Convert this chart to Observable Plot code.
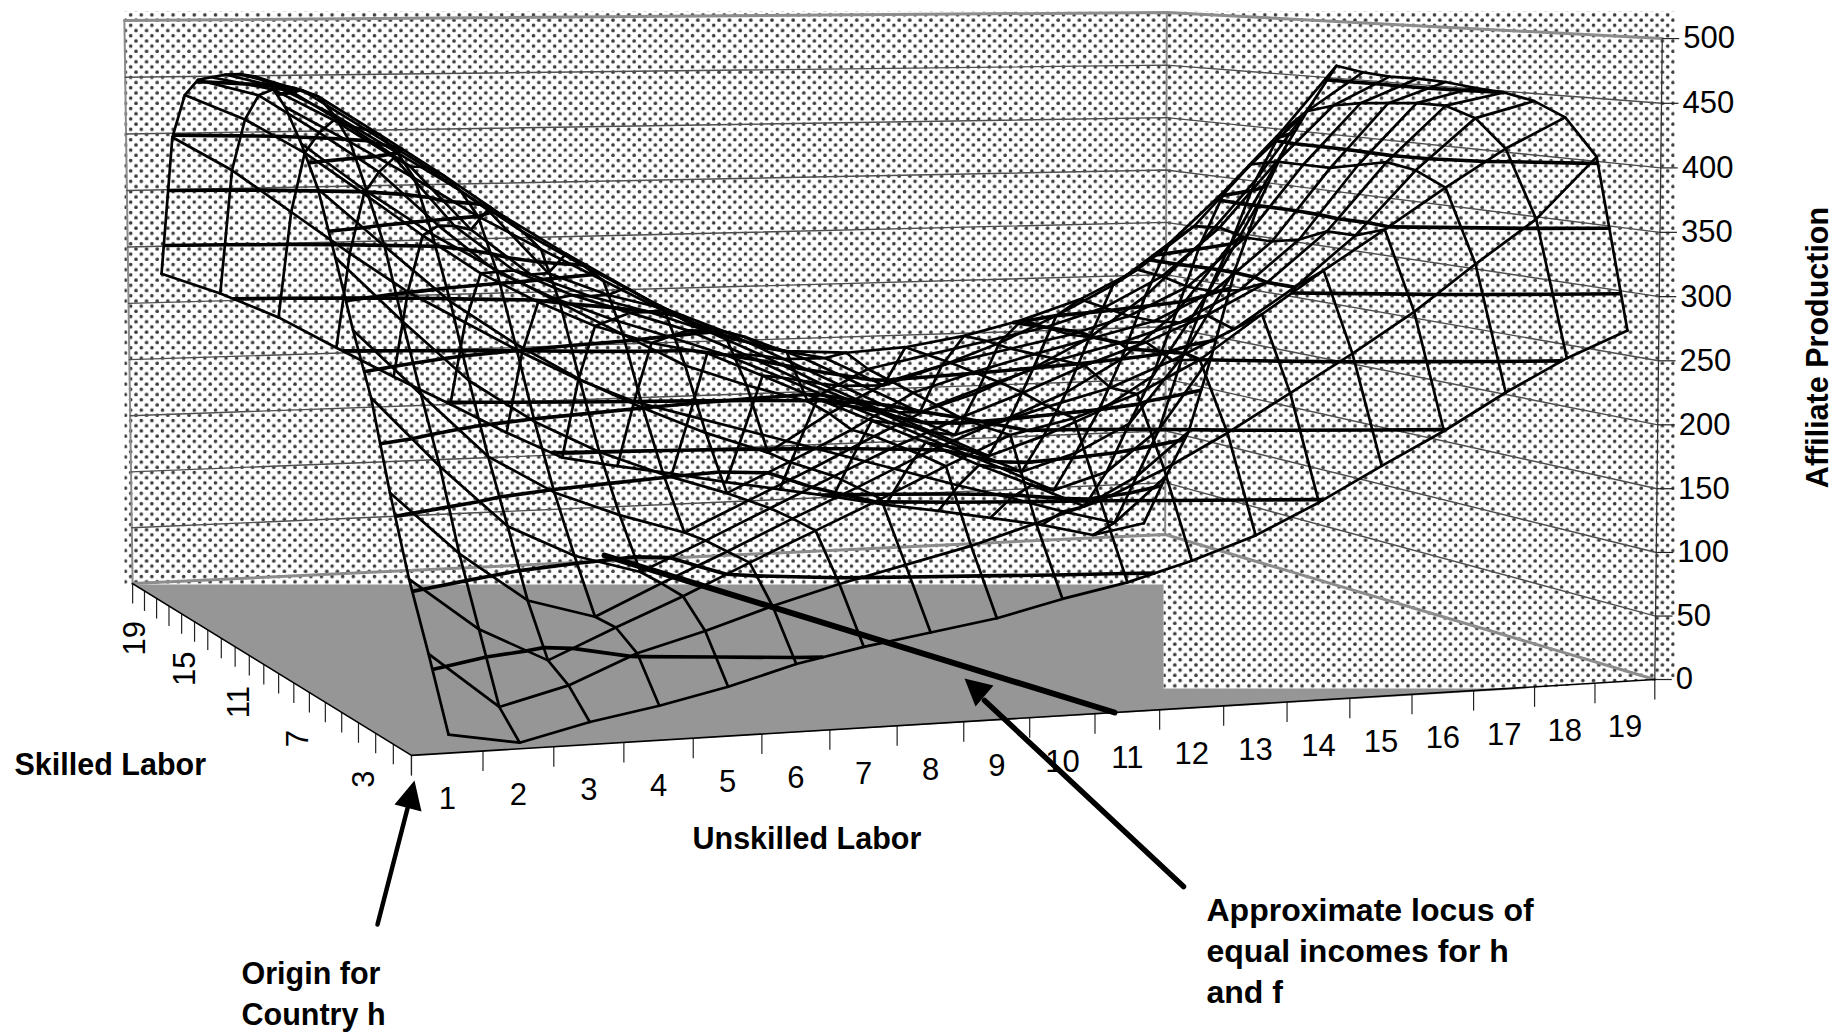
<!DOCTYPE html>
<html><head><meta charset="utf-8">
<script src="https://cdn.jsdelivr.net/npm/d3@7"></script>
<script src="https://cdn.jsdelivr.net/npm/@observablehq/plot@0.6"></script>
<style>html,body{margin:0;padding:0;background:#fff}svg{display:block}</style>
</head><body><div id="chart"></div>
<script>
// category labels
const unskilled = d3.range(1, 20);
const skilled = d3.range(1, 20);
const skilledLabels = [3, 7, 11, 15, 19];
const zTicks = [0, 50, 100, 150, 200, 250, 300, 350, 400, 450, 500];
const contourLevels = [50, 100, 150, 200, 250, 300, 350, 400, 450];

// Affiliate production: one row per skilled-labor level, u = 1..19
const s01 = [9,0,12,21,32,46,56,64,72,84,94,108,125,148,174,199,227,252,272];
const s02 = [60,18,31,52,66,82,96,108,120,135,150,172,198,227,256,287,323,357,405];
const s03 = [108,68,42,64,85,108,130,152,175,197,208,225,250,284,317,348,380,410,434];
const s04 = [166,118,80,65,88,110,133,155,178,198,212,225,245,268,300,340,391,432,445];
const s05 = [232,178,130,105,90,112,135,158,180,200,218,238,255,275,300,340,395,440,450];
const s06 = [279,228,178,148,128,112,135,158,182,205,222,238,250,265,290,330,390,440,452];
const s07 = [331,280,232,198,172,152,135,158,182,210,225,238,250,262,285,325,385,438,455];
const s08 = [381,335,290,255,225,200,178,160,190,215,228,238,248,262,285,325,385,436,456];
const s09 = [414,375,340,310,282,255,228,210,195,220,230,240,250,265,290,330,385,432,456];
const s10 = [441,412,382,350,322,295,268,245,232,229,232,240,252,268,292,328,380,425,458];
const s11 = [458,432,400,368,333,303,275,248,230,220,195,210,228,250,275,310,355,405,462];
const s12 = [462,445,412,378,342,310,280,250,235,215,190,165,180,200,225,260,305,360,425];
const s13 = [462,448,415,382,345,290,270,256,235,210,185,160,138,152,172,200,240,300,385];
const s14 = [460,447,415,380,325,285,265,250,232,208,182,158,135,112,128,148,178,250,335];
const s15 = [456,445,418,385,325,285,262,245,228,205,180,158,135,112,90,105,130,190,270];
const s16 = [452,438,405,370,322,280,255,235,218,200,178,155,133,110,88,65,80,118,185];
const s17 = [437,415,385,348,310,275,248,225,208,197,175,152,130,108,85,64,42,68,108];
const s18 = [398,368,330,292,256,227,198,172,150,135,120,105,90,75,60,46,31,18,60];
const s19 = [274,255,232,203,175,148,120,95,85,76,66,57,48,38,30,21,12,0,9];
const surface = [s01,s02,s03,s04,s05,s06,s07,s08,s09,s10,s11,s12,s13,s14,s15,s16,s17,s18,s19];

// ---- camera: the seven visible corners of the chart box on the page
const boxCorners = [
  [0,0,0, 411,755],[1,0,0,1654,679],[0,1,0,132,583],[1,1,0,1165,534],
  [0,1,1, 124,20],[1,1,1,1166,12],[1,0,1,1662,38]
];
function solve(A, b) {
  const n = b.length, M = A.map((r,i)=>[...r,b[i]]);
  for (let c=0;c<n;c++){
    let p=c; for(let r=c+1;r<n;r++) if(Math.abs(M[r][c])>Math.abs(M[p][c])) p=r;
    [M[c],M[p]]=[M[p],M[c]];
    for(let r=0;r<n;r++) if(r!==c){const f=M[r][c]/M[c][c]; for(let k=c;k<=n;k++) M[r][k]-=f*M[c][k];}
  }
  return M.map((r,i)=>r[n]/r[i]);
}
const P = (() => {
  const rows=[], rhs=[];
  for (const [a,b,c,X,Y] of boxCorners){
    const x=X/1000,y=Y/1000;
    rows.push([a,b,c,1,0,0,0,0,-x*a,-x*b,-x*c]); rhs.push(x);
    rows.push([0,0,0,0,a,b,c,1,-y*a,-y*b,-y*c]); rhs.push(y);
  }
  const N=11, AtA=d3.range(N).map(i=>d3.range(N).map(j=>d3.sum(rows,r=>r[i]*r[j])));
  const Atb=d3.range(N).map(i=>d3.sum(rows,(r,k)=>r[i]*rhs[k]));
  return solve(AtA,Atb);
})();
// u, s on the 0..19 axes, z on the 0..500 axis
function project(u,s,z){
  const a=u/19,b=s/19,c=z/500, w=P[8]*a+P[9]*b+P[10]*c+1;
  return [1000*(P[0]*a+P[1]*b+P[2]*c+P[3])/w, 1000*(P[4]*a+P[5]*b+P[6]*c+P[7])/w];
}
const pt=(u,s,z)=>{const [x,y]=project(u,s,z);return {x,y};};
// where a grid index (fractional allowed) sits on the floor axes
const uPos=i=>i*1.005+.65, sPos=j=>j*1.05+.5;
const surf=(i,j,z)=>pt(uPos(i),sPos(j),z);

// grid lines of the surface
const wire=[];
surface.forEach((row,j)=>{row.forEach((z,i)=>wire.push({line:"s"+j,...surf(i,j,z)}));});
unskilled.forEach((_,i)=>{surface.forEach((row,j)=>wire.push({line:"u"+i,...surf(i,j,row[i])}));});

// level lines of the surface
const contourSegs=[];
for(const L of contourLevels){
  for(let j=0;j<18;j++)for(let i=0;i<18;i++){
    const c=[[i,j],[i+1,j],[i+1,j+1],[i,j+1]].map(([a,b])=>[a,b,surface[b][a]]);
    const hits=[];
    for(let k=0;k<4;k++){
      const p=c[k],q=c[(k+1)%4];
      if((p[2]-L)*(q[2]-L)<0||(p[2]===L&&q[2]>L)||(q[2]===L&&p[2]>L)){
        const t=(L-p[2])/(q[2]-p[2]);
        hits.push(surf(p[0]+t*(q[0]-p[0]),p[1]+t*(q[1]-p[1]),L));
      }
    }
    for(let h=0;h+1<hits.length;h+=2) contourSegs.push({x1:hits[h].x,y1:hits[h].y,x2:hits[h+1].x,y2:hits[h+1].y});
  }
}

// wall gridlines: left wall -> back corner -> right corner
const wallLines=zTicks.flatMap(z=>[
  {z,...pt(0,19,z)},{z,...pt(19,19,z)},{z,...pt(19,0,z)}
]);
const heavy=d=>d.z===0||d.z===500;

const wallShape=[
  {x:124,y:11},{x:1674,y:11},{x:1674,y:679},{x:1654,y:679},{x:1530,y:688},
  {x:1163,y:688},{x:1163,y:584},{x:124,y:584}
];
const floorShape=[
  {x:132,y:584},{x:1163,y:584},{x:1163,y:688},{x:1530,y:688},pt(0,0,0)
];

const defsMark=()=>{
  const ns="http://www.w3.org/2000/svg";
  const defs=document.createElementNS(ns,"defs");
  const p=document.createElementNS(ns,"pattern");
  p.setAttribute("id","dots");p.setAttribute("patternUnits","userSpaceOnUse");
  p.setAttribute("width",10.6);p.setAttribute("height",10.4);
  p.setAttribute("x",0.5);p.setAttribute("y",1.5);
  const bg=document.createElementNS(ns,"rect");
  bg.setAttribute("width",11);bg.setAttribute("height",11);bg.setAttribute("fill","#fff");p.appendChild(bg);
  for(const [cx,cy] of [[2.5,2.5],[7.8,7.7]]){
    const c=document.createElementNS(ns,"circle");
    c.setAttribute("cx",cx);c.setAttribute("cy",cy);c.setAttribute("r",1.8);c.setAttribute("fill","#3c3c3c");
    p.appendChild(c);
  }
  defs.appendChild(p);return defs;
};

const xTickEnds=d3.range(0,20).map(k=>{const a=pt(k,0,0);return {x1:a.x,y1:a.y,x2:a.x,y2:a.y+20};});
const sTickEnds=d3.range(0,20).map(k=>{const a=pt(0,k,0);return {x1:a.x,y1:a.y,x2:a.x,y2:a.y+20};});
const zTickEnds=zTicks.map(z=>{const a=pt(19,0,z);return {z,x1:a.x,y1:a.y,x2:a.x+17,y2:a.y};});

const sans="'Liberation Sans',Arial,sans-serif";
const tickText={fontFamily:sans,fontSize:31,fill:"#000"};
const boldText={fontFamily:sans,fontSize:30.5,fontWeight:700,fill:"#000"};
const boldLarge={fontFamily:sans,fontSize:32,fontWeight:700,fill:"#000"};

const notes=[
  {t:"Skilled Labor",x:14,y:765},{t:"Unskilled Labor",x:692,y:839},
  {t:"Origin for",x:241,y:974},{t:"Country h",x:241,y:1015}
];
const notesLarge=[
  {t:"Approximate locus of",x:1206,y:910},{t:"equal incomes for h",x:1206,y:951},{t:"and f",x:1206,y:992}
];
const originShaft=[{x:377,y:924},{x:408,y:804}];
const originHead=[{x:414,y:780},{x:394,y:804},{x:421,y:811}];
const locusShaft=[{x:1183,y:886},{x:984,y:700}];
const locusHead=[{x:964,y:678},{x:993,y:685},{x:975,y:706}];
const equalLine=[{x:1114,y:712},{x:604,y:555}];

const chart=Plot.plot({
  width:1839,height:1032,margin:0,
  x:{domain:[0,1839],range:[0,1839],axis:null},
  y:{domain:[0,1032],range:[0,1032],axis:null},
  style:{background:"#fff"},
  marks:[
    defsMark,
    Plot.line(wallShape,{x:"x",y:"y",fill:"url(#dots)",stroke:"none",curve:"linear-closed"}),
    Plot.line(floorShape,{x:"x",y:"y",fill:"#969696",stroke:"none",curve:"linear-closed"}),
    Plot.line([pt(0,19,0),pt(0,19,500)],{x:"x",y:"y",stroke:"#8c8c8c",strokeWidth:2}),
    Plot.line([pt(19,19,0),pt(19,19,500)],{x:"x",y:"y",stroke:"#8c8c8c",strokeWidth:2}),
    Plot.line(wallLines.filter(d=>!heavy(d)),{x:"x",y:"y",z:"z",stroke:"#505050",strokeWidth:1.4}),
    Plot.line(wallLines.filter(heavy),{x:"x",y:"y",z:"z",stroke:"#8c8c8c",strokeWidth:3}),
    Plot.line([pt(19,0,500),pt(19,0,0)],{x:"x",y:"y",stroke:"#333",strokeWidth:1.3}),
    Plot.link(xTickEnds,{x1:"x1",y1:"y1",x2:"x2",y2:"y2",stroke:"#222",strokeWidth:1.2}),
    Plot.link(sTickEnds,{x1:"x1",y1:"y1",x2:"x2",y2:"y2",stroke:"#222",strokeWidth:1.2}),
    Plot.link(zTickEnds,{x1:"x1",y1:"y1",x2:"x2",y2:"y2",stroke:"#222",strokeWidth:1.2}),
    Plot.line([pt(0,19,0),pt(0,0,0),pt(19,0,0)],{x:"x",y:"y",stroke:"#000",strokeWidth:1.6}),
    Plot.line(wire,{x:"x",y:"y",z:"line",stroke:"#000",strokeWidth:2.7,curve:"linear"}),
    Plot.link(contourSegs,{x1:"x1",y1:"y1",x2:"x2",y2:"y2",stroke:"#000",strokeWidth:3.6}),
    Plot.text(zTicks,{x:z=>project(19,0,z)[0],y:z=>project(19,0,z)[1],text:String,dx:21,textAnchor:"start",...tickText}),
    Plot.text(unskilled,{x:u=>project(u-.5,0,0)[0],y:u=>project(u-.5,0,0)[1],text:String,dy:46,...tickText}),
    Plot.text(skilledLabels,{x:s=>project(0,s-.5,0)[0],y:s=>project(0,s-.5,0)[1],text:String,dx:-3,dy:51,rotate:-90,...tickText}),
    Plot.text(["Affiliate Production"],{x:()=>1818,y:()=>347,text:d=>d,rotate:-90,...boldText}),
    Plot.text(notes,{x:"x",y:"y",text:"t",textAnchor:"start",...boldText}),
    Plot.text(notesLarge,{x:"x",y:"y",text:"t",textAnchor:"start",...boldLarge}),
    Plot.line(equalLine,{x:"x",y:"y",stroke:"#000",strokeWidth:6}),
    Plot.line(originShaft,{x:"x",y:"y",stroke:"#000",strokeWidth:4.5}),
    Plot.line(originHead,{x:"x",y:"y",fill:"#000",stroke:"none",curve:"linear-closed"}),
    Plot.line(locusShaft,{x:"x",y:"y",stroke:"#000",strokeWidth:5.5}),
    Plot.line(locusHead,{x:"x",y:"y",fill:"#000",stroke:"none",curve:"linear-closed"})
  ]
});
document.getElementById("chart").appendChild(chart);
</script></body></html>
